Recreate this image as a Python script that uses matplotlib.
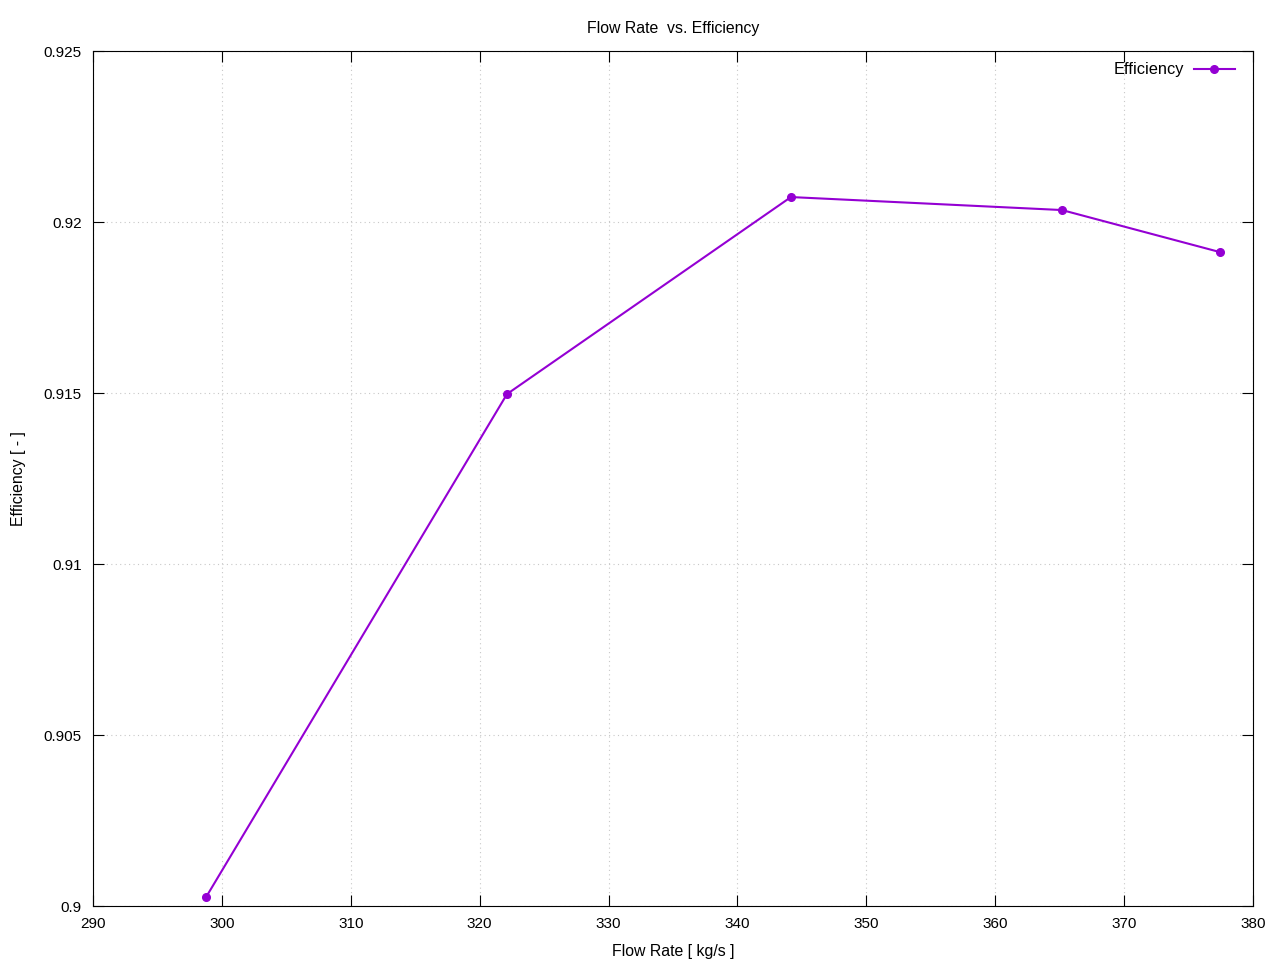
import matplotlib
matplotlib.use("Agg")
import matplotlib.pyplot as plt

# Datos
flow_rate = [298.77, 322.12, 344.15, 365.18, 377.44]
efficiency = [0.90026, 0.91497, 0.92073, 0.92035, 0.91912]
x_ticks = [290, 300, 310, 320, 330, 340, 350, 360, 370, 380]
y_ticks = [0.9, 0.905, 0.91, 0.915, 0.92, 0.925]
y_labels = ["0.9", "0.905", "0.91", "0.915", "0.92", "0.925"]

plt.rcParams['font.family'] = ['Liberation Sans', 'DejaVu Sans']
plt.rcParams['font.size'] = 11

fig = plt.figure(figsize=(12.8, 9.6), dpi=100)
ax = fig.add_axes([0.0727, 0.05625, 0.9062, 0.8906])

ax.plot(flow_rate, efficiency, color='#9400d3', linewidth=1.5,
        marker='o', markersize=5.5, label='Efficiency')

ax.set_xlim(290, 380)
ax.set_ylim(0.9, 0.925)
ax.set_xticks(x_ticks)
ax.set_yticks(y_ticks)
ax.set_yticklabels(y_labels)

ax.grid(True, color='#c8c8c8', linestyle=(0, (1, 3)), linewidth=0.8)
ax.tick_params(axis='x', direction='in', top=True, length=8, width=0.8, pad=8)
ax.tick_params(axis='y', direction='in', right=True, length=8, width=0.8, pad=8)
for s in ax.spines.values():
    s.set_linewidth(0.8)

ax.set_title('Flow Rate  vs. Efficiency', fontsize=11.4, pad=13)
ax.set_xlabel('Flow Rate [ kg/s ]', fontsize=11.4, labelpad=9)
ax.set_ylabel('Efficiency [ - ]', fontsize=11.4, labelpad=13)

leg = ax.legend(loc='upper right', bbox_to_anchor=(0.994, 1.0), frameon=False,
                markerfirst=False, handlelength=2.5, handletextpad=0.55,
                fontsize=11.8, borderaxespad=0.3)

fig.savefig('out.png', dpi=100)
